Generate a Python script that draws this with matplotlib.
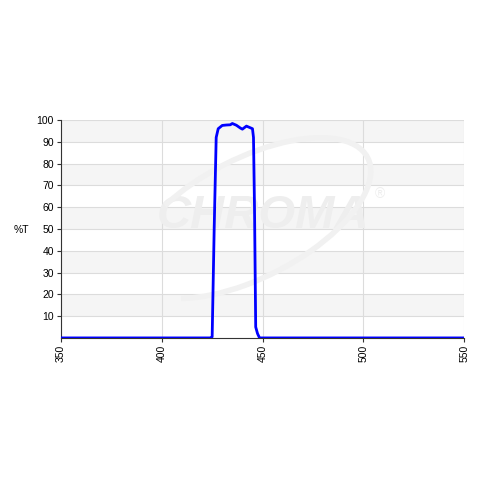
import matplotlib
matplotlib.use("Agg")
import matplotlib.pyplot as plt
from matplotlib.patches import Arc

wavelength = [350, 424, 425, 426, 427, 428, 430, 432, 434, 435, 437, 439, 440, 442, 443, 445, 445.5, 446, 446.6, 447.5, 448.5, 550]
transmission = [0, 0, 0.5, 50, 92, 96, 97.5, 97.7, 97.8, 98.4, 97.6, 96.3, 95.8, 97.2, 96.8, 96, 92, 60, 5, 2, 0, 0]
xticks = [350, 400, 450, 500, 550]
yticks = [10, 20, 30, 40, 50, 60, 70, 80, 90, 100]

plt.rcParams['font.family'] = ['Liberation Sans', 'DejaVu Sans']

fig = plt.figure(figsize=(4.8, 4.8), dpi=100)
ax = fig.add_axes([0.127, 0.296, 0.84, 0.454])
ax.set_xlim(350, 550)
ax.set_ylim(0, 100)

# alternating bands
for i in range(0, 100, 20):
    ax.axhspan(i + 10, i + 20, color='#f5f5f5', zorder=0, lw=0)

ax.grid(True, color='#dcdcdc', lw=0.8, zorder=1)
ax.set_axisbelow(True)

# watermark
ax.text(0.5, 0.56, 'CHROMA', transform=ax.transAxes, ha='center', va='center',
        fontsize=34, fontstyle='italic', fontweight='bold', color='#eeeeee', zorder=1)
ax.text(0.79, 0.66, '®', transform=ax.transAxes, ha='center', va='center',
        fontsize=10, color='#eeeeee', zorder=1)
arc = Arc((0.47, 0.55), 0.42, 0.85, angle=-35, theta1=-80, theta2=200,
          transform=ax.transAxes, color='#f1f1f1', lw=4, zorder=1)
ax.add_patch(arc)

ax.plot(wavelength, transmission, color='#0000ff', lw=2, zorder=3)

ax.set_xticks(xticks)
ax.set_xticklabels([str(v) for v in xticks], rotation=90)
ax.set_yticks(yticks)
ax.tick_params(labelsize=7.5, length=3, width=0.8, color='#333333', pad=2)
for s in ['top', 'right']:
    ax.spines[s].set_visible(False)
for s in ['left', 'bottom']:
    ax.spines[s].set_color('#333333')
    ax.spines[s].set_linewidth(0.8)

fig.text(0.045, 0.52, '%T', fontsize=7.5, ha='center', va='center')

fig.savefig('out.png', dpi=100)
